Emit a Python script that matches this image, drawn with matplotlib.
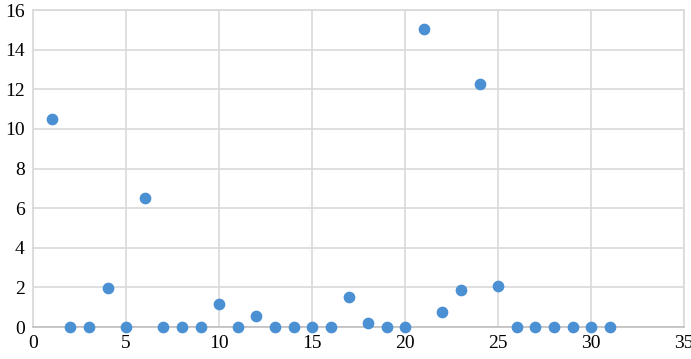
import matplotlib
matplotlib.use('Agg')
import matplotlib.pyplot as plt

# data
x_vals = list(range(1, 32))
y_vals = [10.5, 0, 0, 1.95, 0, 6.5, 0, 0, 0, 1.15,
          0, 0.56, 0, 0, 0, 0, 1.53, 0.19, 0, 0,
          15.03, 0.77, 1.87, 12.27, 2.07, 0, 0, 0, 0, 0,
          0]
x_ticks = [0, 5, 10, 15, 20, 25, 30, 35]
y_ticks = [0, 2, 4, 6, 8, 10, 12, 14, 16]

plt.rcParams['font.family'] = ['Liberation Serif', 'DejaVu Serif']

fig = plt.figure(figsize=(6.91, 3.59), dpi=100)
ax = fig.add_axes([0.048, 0.089, 0.942, 0.883])

ax.scatter(x_vals, y_vals, s=55, color='#4A90D2', zorder=3, clip_on=False)

ax.set_xlim(0, 35)
ax.set_ylim(0, 16)
ax.set_xticks(x_ticks)
ax.set_yticks(y_ticks)
ax.grid(True, color='#d9d9d9', linewidth=1.2)
ax.set_axisbelow(True)
for side in ['top', 'right', 'left']:
    ax.spines[side].set_color('#d9d9d9')
    ax.spines[side].set_linewidth(1.2)
ax.spines['bottom'].set_color('#bfbfbf')
ax.spines['bottom'].set_linewidth(1.2)
ax.tick_params(length=0, labelsize=14, pad=6)

fig.savefig('out.png', dpi=100)
